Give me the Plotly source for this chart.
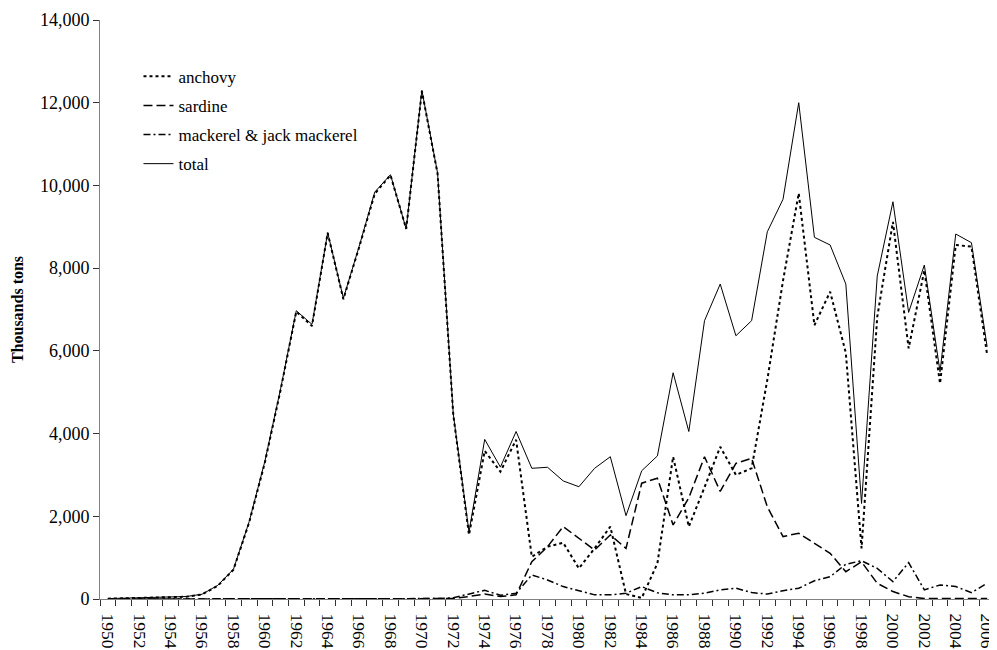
import plotly.graph_objects as go

years = list(range(1950, 2007))

anchovy = [8, 12, 25, 35, 45, 55, 110, 320, 710, 1850, 3300, 5050, 6950, 6600, 8850, 7250,
           8500, 9800, 10250, 8950, 12280, 10280, 4450, 1550, 3580, 3080, 3850, 1020, 1265, 1360,
           740, 1225, 1750, 120, 25, 860, 3440, 1750, 2700, 3680, 3000, 3160, 5300, 7700,
           9810, 6620, 7430, 5950, 1225, 6820, 9120, 6060, 7950, 5210, 8560, 8520, 5900]

sardine = [0, 0, 0, 0, 0, 0, 2, 3, 3, 4, 5, 5, 5, 5, 5, 5,
           5, 5, 5, 5, 5, 5, 10, 60, 120, 60, 100, 900, 1265, 1750,
           1470, 1185, 1550, 1225, 2800, 2920, 1790, 2450, 3440, 2600, 3280, 3400, 2230, 1510,
           1590, 1350, 1105, 660, 900, 380, 180, 56, 10, 10, 10, 10, 10]

mackerel = [0, 0, 0, 0, 0, 0, 2, 3, 3, 4, 5, 5, 5, 5, 5, 5,
            5, 5, 5, 5, 5, 10, 30, 120, 210, 90, 140, 580, 460, 300,
            200, 100, 100, 140, 300, 150, 100, 100, 140, 220, 260, 155, 120, 200,
            260, 440, 540, 840, 925, 740, 420, 880, 220, 340, 300, 155, 380]

total = [10, 15, 30, 40, 50, 60, 115, 330, 720, 1870, 3330, 5080, 6970, 6640, 8860, 7270,
         8520, 9840, 10260, 8950, 12300, 10300, 4470, 1620, 3860, 3190, 4050, 3160, 3185, 2855,
         2715, 3160, 3440, 2015, 3100, 3460, 5470, 4050, 6730, 7615, 6365, 6730, 8880, 9665,
         12000, 8745, 8560, 7615, 2310, 7810, 9605, 6930, 8075, 5495, 8825, 8615, 6100]

y_ticks = [0, 2000, 4000, 6000, 8000, 10000, 12000, 14000]
x_labels = list(range(1950, 2007, 2))

FONT = "Liberation Serif"

fig = go.Figure()
fig.add_trace(go.Scatter(x=years, y=anchovy, name="anchovy", mode="lines", legendgroup="a",
                         line=dict(color="black", width=2, dash="3px,3px")))
fig.add_trace(go.Scatter(x=years, y=sardine, name="sardine", mode="lines", legendgroup="b",
                         line=dict(color="black", width=1.5, dash="9px,4px")))
fig.add_trace(go.Scatter(x=years, y=mackerel, name="mackerel & jack mackerel", mode="lines", legendgroup="c",
                         line=dict(color="black", width=1.5, dash="7px,3px,2px,3px")))
fig.add_trace(go.Scatter(x=years, y=total, name="total", mode="lines", legendgroup="d",
                         line=dict(color="black", width=1)))

# page body has an 8px default margin, so the figure is sized/offset to compensate
fig.update_layout(
    width=989, height=642,
    margin=dict(l=92, r=2, t=12, b=51),
    paper_bgcolor="white", plot_bgcolor="white",
    font=dict(family=FONT, size=17, color="black"),
    showlegend=True,
    legend=dict(x=0.043, y=0.933, xanchor="left", yanchor="top",
                bgcolor="rgba(0,0,0,0)", font=dict(family=FONT, size=17),
                tracegroupgap=4),
    xaxis=dict(
        range=[1949.5, 2006.5], tickmode="array", tickvals=x_labels,
        ticktext=[str(v) for v in x_labels], tickangle=90, ticks="",
        ticklabelstandoff=10,
        showgrid=False, zeroline=False, showline=True, linecolor="#808080", linewidth=1,
        tickfont=dict(family=FONT, size=17.5), automargin=False, ticklabeloverflow="allow",
        minor=dict(tick0=1949.5, dtick=1, ticks="outside", ticklen=6, tickcolor="#333", showgrid=False),
    ),
    yaxis=dict(
        range=[0, 14000], tickmode="array", tickvals=y_ticks,
        ticktext=[f"{v:,}" for v in y_ticks],
        ticks="outside", ticklen=6, tickcolor="#333",
        showgrid=False, zeroline=False, showline=True, linecolor="#808080", linewidth=1,
        tickfont=dict(family=FONT, size=18), automargin=False,
        title=dict(text="<b>Thousands tons</b>", font=dict(family=FONT, size=16), standoff=12),
    ),
)

fig.write_html("out.html")
